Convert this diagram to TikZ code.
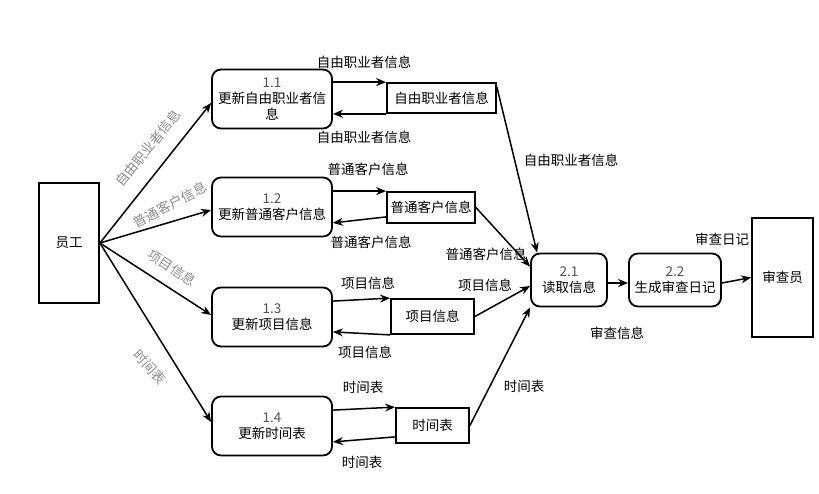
\documentclass[tikz,border=0pt]{standalone}
\usepackage{fontspec}
\setmainfont{Noto Sans CJK SC}
\usetikzlibrary{arrows.meta}
\definecolor{flowgray}{HTML}{8C8C8C}
\definecolor{numgray}{HTML}{505050}

\begin{document}
\begin{tikzpicture}[x=1pt, y=-1pt, every node/.style={font=\fontsize{13.5}{16}\selectfont}, proc/.style={draw, line width=1.8pt, rounded corners=9pt, align=center, minimum width=120pt, minimum height=59pt}, store/.style={draw, line width=1.8pt, minimum height=31pt}, ent/.style={draw, line width=1.8pt, minimum width=60pt, minimum height=120pt}, flow/.style={-{Stealth[length=10pt,width=8pt]}, line width=1.5pt}, tilt/.style={text=flowgray, inner sep=0pt}]
\useasboundingbox (0,0) rectangle (819,493);
\node[ent] (emp) at (69,243) {员工};
\node[proc] (p11) at (272,99) {\textcolor{numgray}{1.1}\\更新自由职业者信\\息};
\node[proc] (p12) at (272,207) {\textcolor{numgray}{1.2}\\更新普通客户信息};
\node[proc] (p13) at (272,317) {\textcolor{numgray}{1.3}\\更新项目信息};
\node[proc] (p14) at (272,426) {\textcolor{numgray}{1.4}\\更新时间表};
\node[store, minimum width=109pt, minimum height=30pt] (s1) at (441.5,98) {自由职业者信息};
\node[store, minimum width=88pt] (s2) at (431,207.5) {普通客户信息};
\node[store, minimum width=83pt, minimum height=35pt] (s3) at (432.5,316.5) {项目信息};
\node[store, minimum width=73pt, minimum height=35pt] (s4) at (432.5,425.5) {时间表};
\node[proc, minimum width=76pt, minimum height=53pt] (p21) at (569,280) {\textcolor{numgray}{2.1}\\读取信息};
\node[proc, minimum width=92pt, minimum height=53pt] (p22) at (675,280) {\textcolor{numgray}{2.2}\\生成审查日记};
\node[ent, minimum width=61pt, minimum height=119pt] (aud) at (782.5,277.5) {审查员};
% labels
\node[tilt, rotate=51] (t1) at (148,148) {自由职业者信息};
\node[tilt, rotate=28] (t2) at (170,205) {普通客户信息};
\node[tilt, rotate=-33] (t3) at (172,268) {项目信息};
\node[tilt, rotate=-48] (t4) at (150,367) {时间表};
\node (l1a) at (364,62) {自由职业者信息};
\node (l1b) at (364,137) {自由职业者信息};
\node (l2a) at (368,169) {普通客户信息};
\node (l2b) at (371,242) {普通客户信息};
\node (l3a) at (368,283) {项目信息};
\node (l3b) at (365,352) {项目信息};
\node (l4a) at (363,387) {时间表};
\node (l4b) at (362,462) {时间表};
\node (r1) at (571,160) {自由职业者信息};
\node (r2) at (486,254) {普通客户信息};
\node (r3) at (485,285) {项目信息};
\node (r4) at (524,386) {时间表};
\node (a1) at (722,239) {审查日记};
\node (a2) at (617,333) {审查信息};
% flows
\draw[flow] (emp.east) -- ([yshift=-4pt]p11.west);
\draw[flow] (emp.east) -- ([yshift=-3pt]p12.west);
\draw[flow] (emp.east) -- ([yshift=2pt]p13.west);
\draw[flow] (emp.east) -- ([yshift=4pt]p14.west);
\draw[flow] (p11.east |- s1.north west) -- (s1.north west);
\draw[flow] (s1.south west) -- (p11.east |- s1.south west);
\draw[flow] (p12.east |- s2.north west) -- (s2.north west);
\draw[flow] ([yshift=7pt]s2.south west) -- ([yshift=1pt]p12.east |- s2.south west);
\draw[flow] ([yshift=-3pt]p13.east |- s3.north west) -- (s3.north west);
\draw[flow] (s3.south west) -- ([yshift=3pt]p13.east |- s3.south west);
\draw[flow] ([yshift=-3pt]p14.east |- s4.north west) -- (s4.north west);
\draw[flow] ([yshift=7pt]s4.south west) -- ([yshift=2pt]p14.east |- s4.south west);
\draw[flow] ([yshift=-5pt]s1.north east) -- ([xshift=7pt]p21.north west);
\draw[flow] (s2.east) -- ([yshift=-14pt]p21.north west);
\draw[flow] (s3.east) -- ([yshift=-6pt]p21.west);
\draw[flow] (s4.east) -- (p21.south west);
\draw[flow] ([yshift=-3pt]p21.east) -- ([yshift=-3pt]p22.west);
\draw[flow] ([yshift=-3pt]p22.east) -- (aud.west);
\end{tikzpicture}
\end{document}
